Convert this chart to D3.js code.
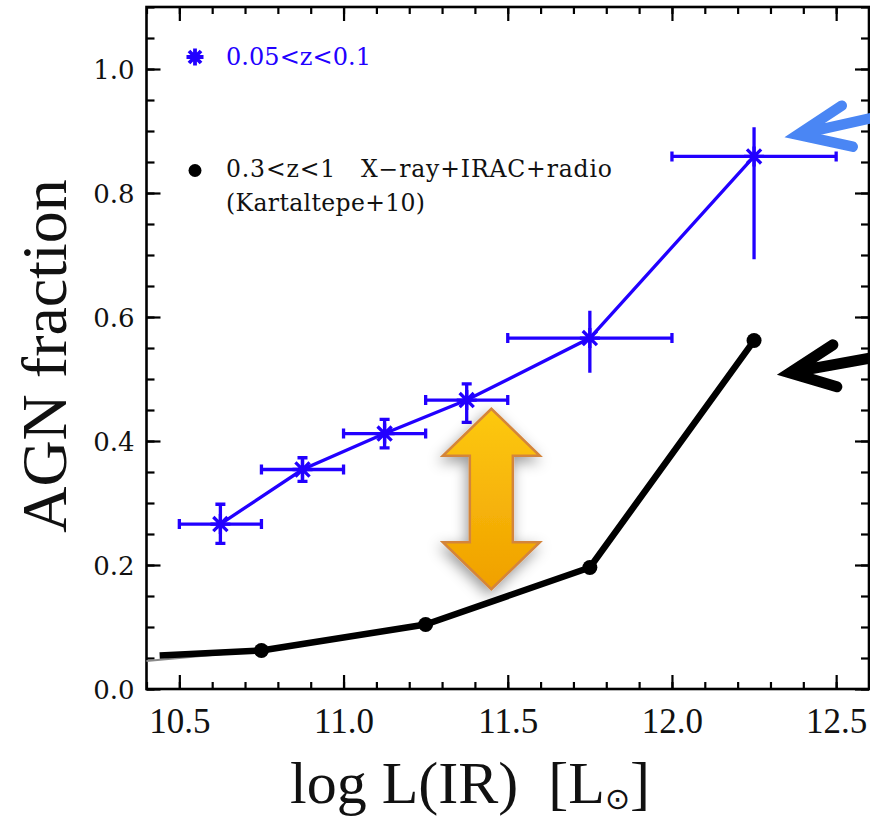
<!doctype html>
<html lang="en">
  <head>
    <meta charset="utf-8">
    <title>AGN fraction vs log L(IR)</title>
    <script src="https://cdn.jsdelivr.net/npm/d3@7"></script>
    <style>
      html, body { margin: 0; padding: 0; background: #fff; }
      svg { display: block; }
    </style>
  </head>
  <body>
    <div id="root"></div>
  <script>

    //data: blue series (0.05<z<0.1) with error bars
    const blueX   = [10.625, 10.875, 11.125, 11.375, 11.75, 12.25];
    const blueY   = [0.266, 0.354, 0.412, 0.466, 0.566, 0.859];
    const blueXLo = [10.5, 10.75, 11.0, 11.25, 11.5, 12.0];
    const blueXHi = [10.75, 11.0, 11.25, 11.5, 12.0, 12.5];
    const blueYLo = [0.235, 0.335, 0.389, 0.430, 0.510, 0.693];
    const blueYHi = [0.298, 0.373, 0.435, 0.492, 0.610, 0.906];

    //data: black series (0.3<z<1, Kartaltepe+10)
    const blackX = [10.75, 11.25, 11.75, 12.25];
    const blackY = [0.062, 0.104, 0.196, 0.562];
    const blackStart = [10.44, 0.054];   // where the thick line begins
    const greyStart = [10.4, 0.045];     // thin line under it, from the frame

    //ticks
    const xTickLabels = [10.5, 11.0, 11.5, 12.0, 12.5];
    const yTickLabels = [0.0, 0.2, 0.4, 0.6, 0.8, 1.0];

    //annotations, in data units
    const gapArrow = {x: 11.45, top: 0.452, bottom: 0.161};
    const blueArrowTip = [12.383, 0.894];
    const blackArrowTip = [12.359, 0.510];

    const width = 870;
    const height = 816;
    const blue = '#2200ff';

    //scales:
    const xScale = d3.scaleLinear().domain([10.4, 12.6]).range([146.5, 869]);
    const yScale = d3.scaleLinear().domain([0, 1.1]).range([689, 7]);

    const svg = d3.select('#root')
      .append('svg')
      .attr('width', width)
      .attr('height', height);

    const defs = svg.append('defs');
    const grad = defs.append('linearGradient')
      .attr('id', 'orange').attr('x1', 0).attr('y1', 0).attr('x2', 0).attr('y2', 1);
    grad.append('stop').attr('offset', '0%').attr('stop-color', '#fdc911');
    grad.append('stop').attr('offset', '100%').attr('stop-color', '#f0a000');
    defs.append('filter')
      .attr('id', 'shadow').attr('x', '-50%').attr('y', '-50%')
      .attr('width', '200%').attr('height', '200%')
      .append('feDropShadow')
      .attr('dx', -2).attr('dy', 5).attr('stdDeviation', 7)
      .attr('flood-color', '#000').attr('flood-opacity', 0.4);

    svg.append('rect').attr('width', width).attr('height', height).attr('fill', '#fff');

    //axes: ticks point inward on all four sides
    const x0 = xScale.range()[0], x1 = xScale.range()[1];
    const y0 = yScale.range()[0], y1 = yScale.range()[1];
    const xMinor = xScale.ticks(22);
    const yMinor = d3.range(0, 1.1001, 0.05);

    function tidy(g) {
      g.select('.domain').remove();
      g.selectAll('.tick line').attr('stroke', '#000').attr('stroke-width', 2.2);
    }

    svg.append('g').attr('transform', `translate(0,${y0})`)
      .call(d3.axisBottom(xScale).tickValues(xMinor).tickSize(-7).tickFormat(''))
      .call(tidy);
    svg.append('g').attr('transform', `translate(0,${y0})`)
      .call(d3.axisBottom(xScale).tickValues(xTickLabels).tickSize(-14)
        .tickFormat(d3.format('.1f')).tickPadding(20))
      .call(tidy)
      .call(g => g.selectAll('text')
        .attr('dy', null).attr('y', 44)
        .attr('fill', '#111')
        .style('font-family', '"Liberation Serif", serif')
        .style('font-size', '35px'));
    svg.append('g').attr('transform', `translate(0,${y1})`)
      .call(d3.axisTop(xScale).tickValues(xMinor).tickSize(-7).tickFormat(''))
      .call(tidy);
    svg.append('g').attr('transform', `translate(0,${y1})`)
      .call(d3.axisTop(xScale).tickValues(xTickLabels).tickSize(-14).tickFormat(''))
      .call(tidy);

    svg.append('g').attr('transform', `translate(${x0},0)`)
      .call(d3.axisLeft(yScale).tickValues(yMinor).tickSize(-8).tickFormat(''))
      .call(tidy);
    svg.append('g').attr('transform', `translate(${x0},0)`)
      .call(d3.axisLeft(yScale).tickValues(yTickLabels).tickSize(-14)
        .tickFormat(d3.format('.1f')).tickPadding(12))
      .call(tidy)
      .call(g => g.selectAll('text')
        .attr('dy', '0.36em')
        .attr('fill', '#111')
        .style('font-family', '"DejaVu Serif", serif')
        .style('font-size', '26px'));
    svg.append('g').attr('transform', `translate(${x1},0)`)
      .call(d3.axisRight(yScale).tickValues(yMinor).tickSize(-8).tickFormat(''))
      .call(tidy);
    svg.append('g').attr('transform', `translate(${x1},0)`)
      .call(d3.axisRight(yScale).tickValues(yTickLabels).tickSize(-14).tickFormat(''))
      .call(tidy);

    svg.append('rect')
      .attr('x', x0).attr('y', y1)
      .attr('width', x1 - x0).attr('height', y0 - y1)
      .attr('fill', 'none').attr('stroke', '#000').attr('stroke-width', 2.6);

    //black series
    const line = d3.line().x(d => xScale(d[0])).y(d => yScale(d[1]));
    const blackPts = blackX.map((d, i) => [d, blackY[i]]);

    svg.append('path')
      .datum([greyStart, blackPts[0], blackPts[1]])
      .attr('d', line)
      .attr('fill', 'none').attr('stroke', '#8a8a8a').attr('stroke-width', 2);

    svg.append('path')
      .datum([blackStart].concat(blackPts))
      .attr('d', line)
      .attr('fill', 'none').attr('stroke', '#000')
      .attr('stroke-width', 6.5).attr('stroke-linejoin', 'round');

    svg.selectAll('circle.black')
      .data(blackPts)
      .enter()
      .append('circle')
      .attr('class', 'black')
      .attr('cx', d => xScale(d[0]))
      .attr('cy', d => yScale(d[1]))
      .attr('r', 7.5)
      .attr('fill', '#000');

    //blue series
    const bluePts = blueX.map((d, i) => ({
      x: d, y: blueY[i], xlo: blueXLo[i], xhi: blueXHi[i], ylo: blueYLo[i], yhi: blueYHi[i], i
    }));

    svg.append('path')
      .datum(bluePts.map(d => [d.x, d.y]))
      .attr('d', line)
      .attr('fill', 'none').attr('stroke', blue).attr('stroke-width', 3.3);

    const err = svg.append('g')
      .attr('stroke', blue).attr('stroke-width', 3.3).attr('fill', 'none');
    const cap = 5;
    bluePts.forEach(d => {
      const cx = xScale(d.x), cy = yScale(d.y);
      const xl = xScale(d.xlo), xh = xScale(d.xhi);
      const yl = yScale(d.ylo), yh = yScale(d.yhi);
      let p = `M${xl},${cy}H${xh}M${xl},${cy - cap}V${cy + cap}M${xh},${cy - cap}V${cy + cap}`;
      p += `M${cx},${yl}V${yh}`;
      if (d.i < 4) p += `M${cx - cap},${yl}H${cx + cap}M${cx - cap},${yh}H${cx + cap}`;
      err.append('path').attr('d', p);
    });

    function star(cx, cy, r) {
      const k = r * Math.SQRT1_2;
      return `M${cx - r},${cy}H${cx + r}M${cx},${cy - r}V${cy + r}` +
        `M${cx - k},${cy - k}L${cx + k},${cy + k}M${cx - k},${cy + k}L${cx + k},${cy - k}`;
    }

    svg.append('g')
      .selectAll('path')
      .data(bluePts)
      .enter()
      .append('path')
      .attr('d', d => star(xScale(d.x), yScale(d.y), 10))
      .attr('stroke', blue).attr('stroke-width', 3.3).attr('fill', 'none');

    //legend
    const legend = svg.append('g')
      .style('font-family', '"DejaVu Serif", serif');
    legend.append('path')
      .attr('d', star(195, 57, 8.5))
      .attr('stroke', blue).attr('stroke-width', 3.8).attr('fill', 'none');
    legend.append('text')
      .attr('x', 226).attr('y', 65)
      .attr('fill', blue).style('font-size', '24px')
      .attr('textLength', 145).attr('lengthAdjust', 'spacing')
      .text('0.05<z<0.1');
    legend.append('circle')
      .attr('cx', 195).attr('cy', 170.5).attr('r', 6.5).attr('fill', '#000');
    legend.append('text')
      .attr('x', 226).attr('y', 177)
      .attr('fill', '#111').style('font-size', '23.5px')
      .attr('xml:space', 'preserve')
      .attr('textLength', 386).attr('lengthAdjust', 'spacing')
      .text('0.3<z<1   X\u2212ray+IRAC+radio');
    legend.append('text')
      .attr('x', 226).attr('y', 211)
      .attr('fill', '#111').style('font-size', '23.5px')
      .attr('textLength', 199).attr('lengthAdjust', 'spacing')
      .text('(Kartaltepe+10)');

    //orange double arrow between the two series
    const ax = xScale(gapArrow.x);
    const at = yScale(gapArrow.top), ab = yScale(gapArrow.bottom);
    const headW = 48.5, shaftW = 21.5, headL = 47;
    const gapPts = [
      [ax, at], [ax + headW, at + headL], [ax + shaftW, at + headL],
      [ax + shaftW, ab - headL], [ax + headW, ab - headL], [ax, ab],
      [ax - headW, ab - headL], [ax - shaftW, ab - headL],
      [ax - shaftW, at + headL], [ax - headW, at + headL]
    ];
    svg.append('path')
      .attr('d', 'M' + gapPts.join('L') + 'Z')
      .attr('fill', 'url(#orange)')
      .attr('stroke', '#d4853a').attr('stroke-width', 2.5)
      .attr('stroke-linejoin', 'miter')
      .attr('filter', 'url(#shadow)');

    //pointer arrows from the right edge
    function pointer(tip, tail, up, down) {
      const tx = xScale(tip[0]), ty = yScale(tip[1]);
      return `M${tx + tail[0]},${ty + tail[1]}L${tx + 4},${ty - 1}` +
        `M${tx + up[0]},${ty + up[1]}L${tx},${ty}L${tx + down[0]},${ty + down[1]}`;
    }
    svg.append('path')
      .attr('d', pointer(blueArrowTip, [75, -17], [44, -29], [55, 12]))
      .attr('fill', 'none').attr('stroke', '#4a86f4').attr('stroke-width', 10.5)
      .attr('stroke-linecap', 'round').attr('stroke-linejoin', 'miter');
    svg.append('path')
      .attr('d', pointer(blackArrowTip, [82, -15], [43, -28], [47, 14]))
      .attr('fill', 'none').attr('stroke', '#000').attr('stroke-width', 11)
      .attr('stroke-linecap', 'round').attr('stroke-linejoin', 'miter');

    //axis titles
    svg.append('text')
      .attr('transform', 'translate(66,356) rotate(-90)')
      .attr('text-anchor', 'middle')
      .attr('fill', '#111')
      .style('font-family', '"Liberation Serif", serif')
      .style('font-size', '64px')
      .text('AGN fraction');

    const xt = svg.append('text')
      .attr('x', 290).attr('y', 803)
      .attr('fill', '#111')
      .attr('xml:space', 'preserve')
      .style('font-family', '"Liberation Serif", serif')
      .style('font-size', '60px');
    xt.append('tspan').text('log L(IR)  [L');
    xt.append('tspan')
      .attr('dy', 6)
      .style('font-family', '"DejaVu Sans", sans-serif')
      .style('font-size', '30px')
      .text('\u2299');
    xt.append('tspan').attr('dy', -6).text(']');

  </script>
  </body>
</html>
